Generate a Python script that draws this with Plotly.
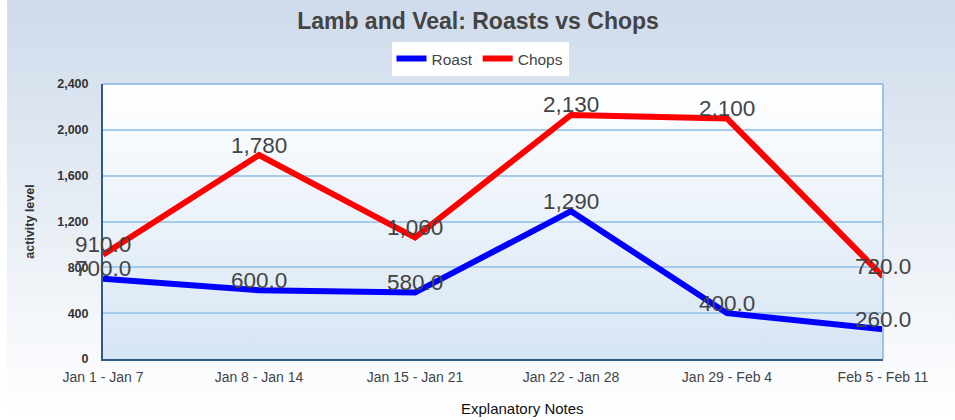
import base64
import plotly.graph_objects as go

categories = ["Jan 1 - Jan 7", "Jan 8 - Jan 14", "Jan 15 - Jan 21",
              "Jan 22 - Jan 28", "Jan 29 - Feb 4", "Feb 5 - Feb 11"]
roast = [700, 600, 580, 1290, 400, 260]
chops = [910, 1780, 1060, 2130, 2100, 720]
y_ticks = [0, 400, 800, 1200, 1600, 2000, 2400]


def fmt(v):
    return f"{v:,.0f}" if v >= 1000 else f"{v:.1f}"


W, H = 955, 420
L, R, T, B = 103, 72, 84, 61
pw, ph = W - L - R, H - T - B


def grad_svg(c1, c2):
    svg = ('<svg xmlns="http://www.w3.org/2000/svg" width="100" height="100" preserveAspectRatio="none">'
           '<defs><linearGradient id="g" x1="0" y1="0" x2="0" y2="1">'
           f'<stop offset="0" stop-color="{c1}"/><stop offset="1" stop-color="{c2}"/>'
           '</linearGradient></defs><rect width="100" height="100" fill="url(#g)"/></svg>')
    return "data:image/svg+xml;base64," + base64.b64encode(svg.encode()).decode()


font = "Liberation Sans, Arial, sans-serif"
label_font = dict(size=22.5, color="#444444", family=font)

fig = go.Figure()
fig.add_trace(go.Scatter(
    x=categories, y=roast, name="Roast", mode="lines",
    line=dict(color="#0000ff", width=6),
))
fig.add_trace(go.Scatter(
    x=categories, y=chops, name="Chops", mode="lines",
    line=dict(color="#ff0000", width=6),
))

annotations = []
for series in (roast, chops):
    for c, v in zip(categories, series):
        annotations.append(dict(
            x=c, y=v, xref="x", yref="y", text=fmt(v), showarrow=False,
            xanchor="center", yanchor="middle", yshift=10, font=label_font,
        ))
annotations.append(dict(
    text="Explanatory Notes", xref="paper", yref="paper",
    x=(522 - L) / pw, y=-(408 - T - ph) / ph, xanchor="center", yanchor="middle",
    showarrow=False, font=dict(size=15, color="#111111", family=font)))

fig.update_layout(
    width=W, height=H,
    margin=dict(l=L, r=R, t=T, b=B, autoexpand=False),
    paper_bgcolor="rgba(0,0,0,0)",
    plot_bgcolor="rgba(0,0,0,0)",
    font=dict(family=font, color="#444444"),
    title=dict(text="<b>Lamb and Veal: Roasts vs Chops</b>", x=(478) / W, xanchor="center",
               y=1 - 21 / H, yanchor="middle",
               font=dict(size=23, color="#444444", family=font)),
    legend=dict(orientation="h", x=(480 - L) / pw, xanchor="center",
                y=1 + (T - 59) / ph, yanchor="middle",
                bgcolor="#ffffff", font=dict(size=15.5, color="#444444", family=font),
                itemwidth=30, tracegroupgap=0),
    showlegend=True,
    xaxis=dict(
        type="category", range=[0, 5], showgrid=False,
        tickfont=dict(size=14, color="#444444", family=font),
        ticks="", showline=True, linecolor="#2e5a87", linewidth=2,
        mirror=False, zeroline=False, ticklabelstandoff=4,
    ),
    yaxis=dict(
        range=[0, 2400], tickvals=y_ticks, tickformat=",",
        tickfont=dict(size=12.5, color="#333333", family=font, weight="bold"),
        showgrid=True, gridcolor="#a6cbea", gridwidth=1.5,
        showline=True, linecolor="#2e5a87", linewidth=2,
        ticks="", ticklabelstandoff=10, zeroline=False,
        title=dict(text="<b>activity level</b>", standoff=20,
                   font=dict(size=12.5, color="#333333", family=font)),
    ),
    images=[
        dict(source=grad_svg("#cfdbeb", "#ffffff"), xref="paper", yref="paper",
             x=-(L - 7) / pw, y=1 + T / ph, sizex=(W - 7) / pw, sizey=H / ph,
             sizing="stretch", layer="below", xanchor="left", yanchor="top"),
        dict(source=grad_svg("#ffffff", "#d6e5f4"), xref="paper", yref="paper",
             x=0, y=1, sizex=1, sizey=1,
             sizing="stretch", layer="below", xanchor="left", yanchor="top"),
    ],
    shapes=[
        dict(type="line", xref="paper", yref="paper", x0=0, x1=1, y0=1, y1=1,
             line=dict(color="#9cc3e5", width=2)),
        dict(type="line", xref="paper", yref="paper", x0=1, x1=1, y0=0, y1=1,
             line=dict(color="#9cc3e5", width=2)),
    ],
    annotations=annotations,
)

fig.write_html("out.html", config={"displayModeBar": False},
               post_script="document.body.style.margin='0';document.body.style.padding='0';")
